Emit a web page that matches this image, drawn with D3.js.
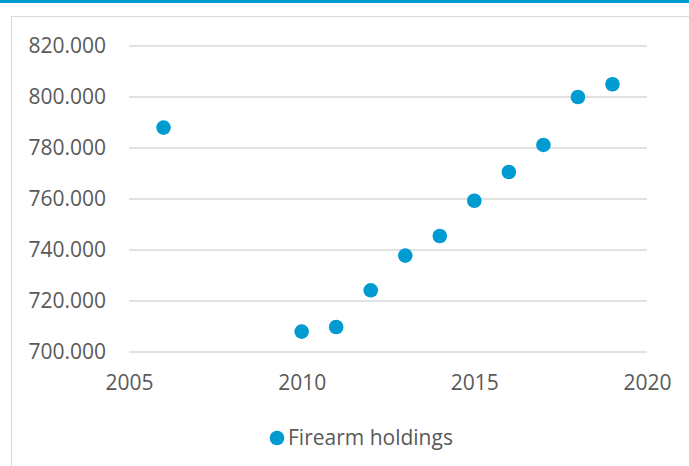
<!DOCTYPE html>
<html>
<head>
<meta charset="utf-8">
<script src="https://cdn.jsdelivr.net/npm/d3@7"></script>
<style>
  html, body { margin: 0; padding: 0; background: #fff; }
  svg { display: block; font-family: "Open Sans", sans-serif; }
</style>
</head>
<body>
<svg id="chart" width="689" height="466"></svg>
<script>
// Data
const years = [2006, 2010, 2011, 2012, 2013, 2014, 2015, 2016, 2017, 2018, 2019];
const holdings = [788000, 708000, 709800, 724200, 737800, 745500, 759300, 770600, 781200, 800000, 805000];
const xTicks = [2005, 2010, 2015, 2020];
const yTicks = [700000, 720000, 740000, 760000, 780000, 800000, 820000];
const seriesName = "Firearm holdings";

const blue = "#009CD1";
const textColor = "#595959";
const fontSize = "21px";

const svg = d3.select("#chart");

// Top accent bar
svg.append("rect")
  .attr("x", 0).attr("y", 0)
  .attr("width", 689).attr("height", 3)
  .attr("fill", blue);

// Chart frame (runs off the right and bottom edges)
svg.append("rect")
  .attr("x", 11.5).attr("y", 16.5)
  .attr("width", 700).attr("height", 470)
  .attr("fill", "none")
  .attr("stroke", "#d9d9d9")
  .attr("stroke-width", 1);

const xScale = d3.scaleLinear().domain([2005, 2020]).range([129, 647]);
const yScale = d3.scaleLinear().domain([700000, 820000]).range([352, 46]);

// Gridlines
svg.append("g")
  .selectAll("line")
  .data(yTicks)
  .enter()
  .append("line")
  .attr("x1", xScale(2005))
  .attr("x2", xScale(2020))
  .attr("y1", (d) => yScale(d))
  .attr("y2", (d) => yScale(d))
  .attr("stroke", "#d9d9d9")
  .attr("stroke-width", 1.5);

const fmt = (v) => d3.format(",.3f")(v / 1000).replace(/,/g, "");

// Y axis labels
const yAxis = d3.axisLeft(yScale).tickValues(yTicks).tickSize(0).tickPadding(0)
  .tickFormat((d) => fmt(d));
svg.append("g")
  .attr("transform", "translate(106,0)")
  .call(yAxis)
  .call((g) => g.select(".domain").remove())
  .call((g) => g.selectAll("text")
    .attr("fill", textColor)
    .attr("font-size", fontSize)
    .attr("font-family", "Open Sans, sans-serif"));

// X axis labels
const xAxis = d3.axisBottom(xScale).tickValues(xTicks).tickSize(0).tickPadding(0)
  .tickFormat(d3.format("d"));
svg.append("g")
  .attr("transform", "translate(0,375)")
  .call(xAxis)
  .call((g) => g.select(".domain").remove())
  .call((g) => g.selectAll("text")
    .attr("fill", textColor)
    .attr("font-size", fontSize)
    .attr("font-family", "Open Sans, sans-serif"));

// Points
svg.append("g")
  .selectAll("circle")
  .data(years.map((y, i) => [y, holdings[i]]))
  .enter()
  .append("circle")
  .attr("cx", (d) => xScale(d[0]))
  .attr("cy", (d) => yScale(d[1]))
  .attr("r", 7.3)
  .attr("fill", blue);

// Legend
const legend = svg.append("g").attr("transform", "translate(277,438)");
legend.append("circle").attr("r", 7.3).attr("fill", blue);
legend.append("text")
  .attr("x", 11)
  .attr("dy", "0.35em")
  .attr("fill", textColor)
  .attr("font-size", fontSize)
  .text(seriesName);
</script>
</body>
</html>
